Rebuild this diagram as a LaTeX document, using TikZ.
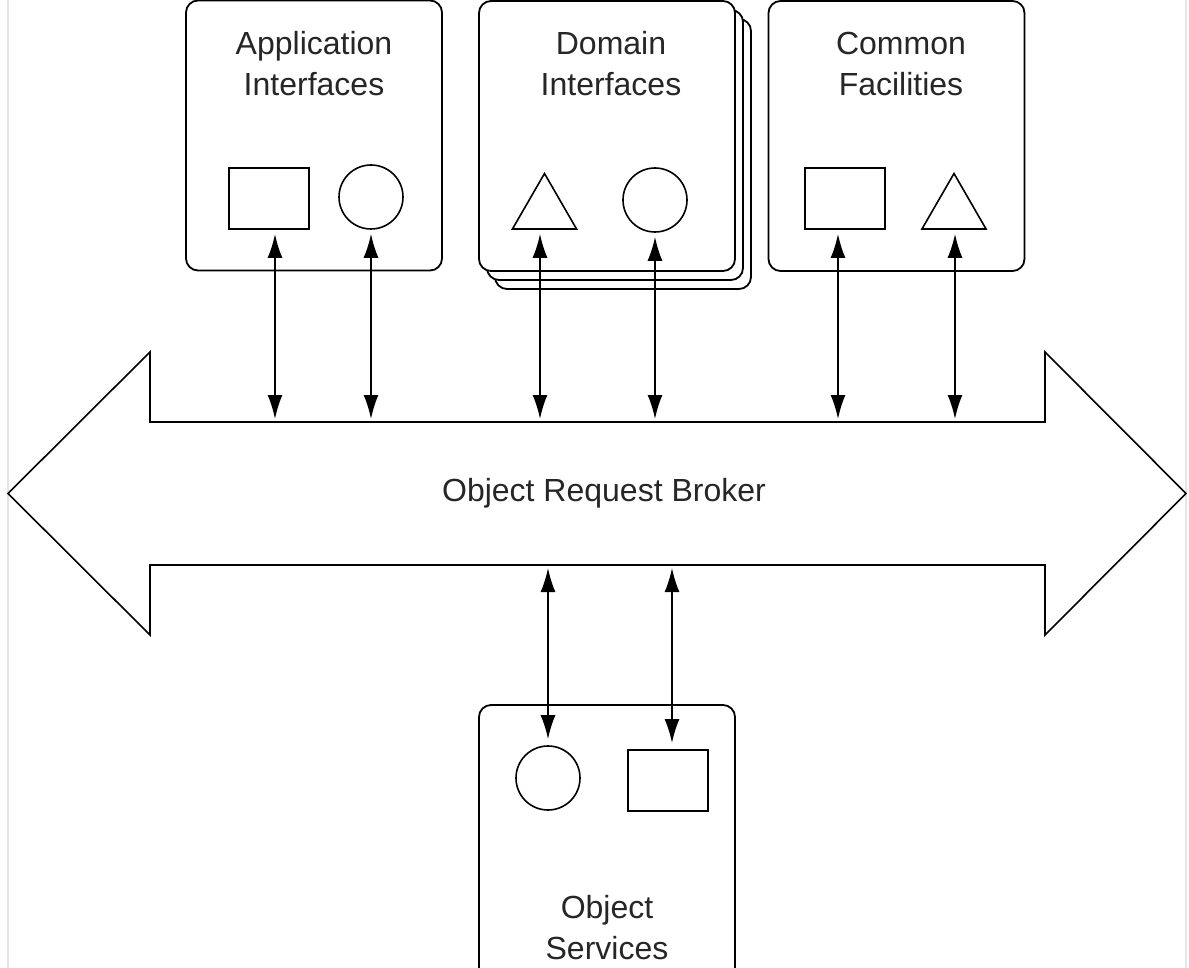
\documentclass[tikz,border=0pt]{standalone}
\usepackage{fontspec}
\setmainfont{Liberation Sans}
\usetikzlibrary{arrows.meta, shapes.geometric, shadows}

\tikzset{
  box/.style={draw, line width=0.9pt, rounded corners=6pt, fill=white, minimum width=128pt, minimum height=135pt, inner sep=0pt},
  title/.style={align=center, text=black!85, font=\fontsize{16}{20.5}\selectfont},
  sq/.style={draw, line width=0.9pt, minimum width=40pt, minimum height=30.5pt, inner sep=0pt},
  rnd/.style={draw, circle, line width=0.8pt, minimum size=32pt, inner sep=0pt},
  tri/.style={draw, regular polygon, regular polygon sides=3, line width=0.8pt, minimum size=37pt, inner sep=0pt},
  link/.style={{Latex[length=12pt,width=7.5pt]}-{Latex[length=12pt,width=7.5pt]}, line width=0.9pt},
  frame/.style={gray!20, line width=0.6pt}
}

\begin{document}
\begin{tikzpicture}[x=0.5pt,y=-0.5pt]
\useasboundingbox (0,0) rectangle (1189,968);
\draw[frame] (8,0) -- (8,968);
\draw[frame] (1186,0) -- (1186,968);

\draw[line width=0.8pt] (8,493.5) -- (150,352) -- (150,422) -- (1045,422) -- (1045,352) -- (1186,493.5)
  -- (1045,635) -- (1045,565) -- (150,565) -- (150,635) -- cycle;
\coordinate (ortop) at (604,422);
\coordinate (orbot) at (604,565);
\node[title] (orb) at (604,493) {Object Request Broker};

\node[box] (app) at (314,135.5) {};
\node[title] (appt) at (314,64) {Application\\Interfaces};
\node[sq] (appsq) at (269,198.5) {};
\node[rnd] (appci) at (371,197) {};

\node[box, double copy shadow={shadow xshift=4pt, shadow yshift=-4.5pt}] (dom) at (607,136) {};
\node[title] (domt) at (611,64) {Domain\\Interfaces};
\node[tri] (domtr) at (544.5,210.5) {};
\node[rnd] (domci) at (655,200) {};

\node[box] (com) at (896.5,136) {};
\node[title] (comt) at (901,64) {Common\\Facilities};
\node[sq] (comsq) at (845,198.5) {};
\node[tri] (comtr) at (954,210.5) {};

\node[box, minimum height=140pt] (svc) at (607,845) {};
\node[title] (svct) at (607,928) {Object\\Services};
\node[rnd] (svcci) at (548,778) {};
\node[sq] (svcsq) at (668,780.5) {};

\foreach \s/\d in {appsq/3, appci/0, domtr/-2.25, domci/0, comsq/-3.5, comtr/0.5}
  \draw[link, shorten <=2pt, shorten >=1.5pt] ([xshift=\d pt]\s.south) -- ([xshift=\d pt]\s.south |- ortop);
\foreach \s/\d in {svcci/0, svcsq/2}
  \draw[link, shorten <=1.5pt, shorten >=3pt] ([xshift=\d pt]\s.north |- orbot) -- ([xshift=\d pt]\s.north);
\end{tikzpicture}
\end{document}
